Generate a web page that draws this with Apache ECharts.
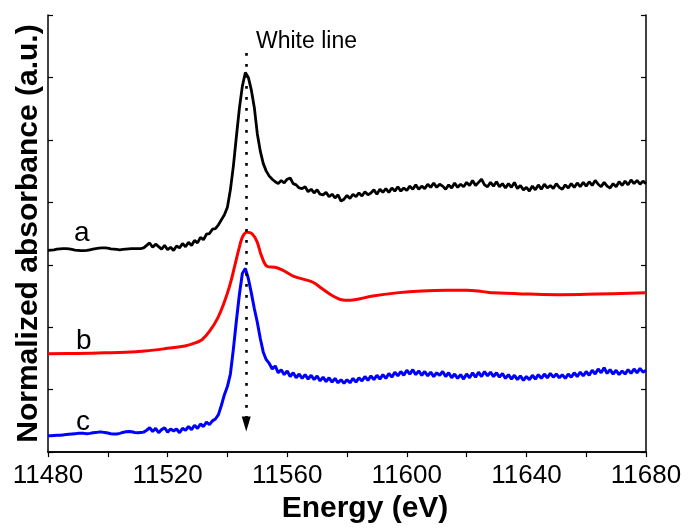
<!DOCTYPE html>
<html>
<head>
<meta charset="utf-8">
<script src="https://cdn.jsdelivr.net/npm/echarts@6/dist/echarts.min.js"></script>
<style>
  html, body { margin: 0; padding: 0; background: #fff; }
  #chart { width: 692px; height: 529px; }
</style>
</head>
<body>
<div id="chart"></div>
<script>
// ── data: energy grid for the two noisy spectra (1 eV steps) ──
const E_START = 11480;
const E_STEP = 1;

// spectrum a (black), one value per eV from 11480 to 11680
const absA = [
  3.23, 3.235, 3.24, 3.25, 3.255, 3.26, 3.26, 3.255, 3.245, 3.235,   // 11480
  3.23, 3.225, 3.225, 3.23, 3.24, 3.25, 3.26, 3.265, 3.27, 3.27,     // 11490
  3.265, 3.255, 3.25, 3.245, 3.24, 3.245, 3.25, 3.255, 3.26, 3.26,   // 11500
  3.26, 3.26, 3.27, 3.31, 3.35, 3.28, 3.33, 3.29, 3.25, 3.31,        // 11510
  3.24, 3.28, 3.23, 3.30, 3.27, 3.34, 3.29, 3.36, 3.31, 3.39,        // 11520
  3.35, 3.44, 3.40, 3.49, 3.50, 3.57, 3.58, 3.64, 3.72, 3.80,        // 11530
  3.92, 4.20, 4.58, 5.05, 5.50, 5.86, 6.08, 6.00, 5.80, 5.52,        // 11540
  5.10, 4.82, 4.62, 4.50, 4.42, 4.37, 4.33, 4.30, 4.35, 4.31,        // 11550
  4.37, 4.39, 4.30, 4.28, 4.23, 4.22, 4.25, 4.17, 4.21, 4.15,        // 11560
  4.20, 4.13, 4.12, 4.16, 4.09, 4.13, 4.07, 4.12, 4.02, 4.05,        // 11570
  4.11, 4.06, 4.13, 4.09, 4.15, 4.10, 4.17, 4.12, 4.15, 4.20,        // 11580
  4.13, 4.21, 4.16, 4.22, 4.16, 4.23, 4.18, 4.25, 4.18, 4.23,        // 11590
  4.19, 4.26, 4.21, 4.28, 4.21, 4.26, 4.22, 4.29, 4.24, 4.31,        // 11600
  4.24, 4.29, 4.26, 4.21, 4.28, 4.23, 4.31, 4.24, 4.29, 4.25,        // 11610
  4.32, 4.27, 4.35, 4.27, 4.32, 4.37, 4.28, 4.25, 4.32, 4.26,        // 11620
  4.33, 4.25, 4.30, 4.23, 4.30, 4.24, 4.32, 4.22, 4.27, 4.20,        // 11630
  4.24, 4.18, 4.26, 4.20, 4.28, 4.21, 4.29, 4.23, 4.27, 4.22,        // 11640
  4.30, 4.24, 4.21, 4.28, 4.23, 4.30, 4.24, 4.31, 4.25, 4.32,        // 11650
  4.26, 4.33, 4.27, 4.35, 4.29, 4.25, 4.32, 4.26, 4.23, 4.30,        // 11660
  4.25, 4.33, 4.27, 4.34, 4.28, 4.36, 4.30, 4.35, 4.29, 4.34,        // 11670
  4.30                                                               // 11680
];

// spectrum c (blue), same grid
const absC = [
  0.26, 0.26, 0.265, 0.27, 0.27, 0.275, 0.28, 0.285, 0.29, 0.295,    // 11480
  0.30, 0.30, 0.30, 0.295, 0.30, 0.31, 0.315, 0.32, 0.32, 0.315,     // 11490
  0.305, 0.295, 0.29, 0.29, 0.30, 0.315, 0.325, 0.33, 0.325, 0.315,  // 11500
  0.31, 0.315, 0.32, 0.35, 0.39, 0.33, 0.38, 0.31, 0.36, 0.39,       // 11510
  0.32, 0.37, 0.34, 0.37, 0.31, 0.38, 0.35, 0.41, 0.36, 0.43,        // 11520
  0.38, 0.45, 0.41, 0.48, 0.44, 0.50, 0.53, 0.60, 0.75, 0.92,        // 11530
  1.05, 1.25, 1.65, 2.10, 2.52, 2.86, 2.94, 2.78, 2.55, 2.30,        // 11540
  2.08, 1.82, 1.60, 1.48, 1.42, 1.33, 1.38, 1.27, 1.32, 1.24,        // 11550
  1.30, 1.21, 1.27, 1.19, 1.25, 1.18, 1.24, 1.17, 1.23, 1.16,        // 11560
  1.22, 1.14, 1.20, 1.13, 1.19, 1.12, 1.18, 1.11, 1.16, 1.10,        // 11570
  1.16, 1.11, 1.18, 1.12, 1.19, 1.14, 1.21, 1.15, 1.22, 1.16,        // 11580
  1.23, 1.17, 1.24, 1.18, 1.26, 1.20, 1.28, 1.22, 1.29, 1.23,        // 11590
  1.31, 1.25, 1.32, 1.24, 1.30, 1.23, 1.29, 1.22, 1.28, 1.21,        // 11600
  1.27, 1.23, 1.29, 1.21, 1.27, 1.19, 1.25, 1.18, 1.24, 1.17,        // 11610
  1.25, 1.19, 1.27, 1.20, 1.28, 1.21, 1.29, 1.22, 1.28, 1.21,        // 11620
  1.27, 1.20, 1.26, 1.18, 1.24, 1.17, 1.23, 1.16, 1.22, 1.15,        // 11630
  1.21, 1.16, 1.23, 1.17, 1.24, 1.18, 1.25, 1.19, 1.26, 1.20,        // 11640
  1.25, 1.19, 1.24, 1.18, 1.25, 1.20, 1.27, 1.21, 1.28, 1.22,        // 11650
  1.29, 1.23, 1.31, 1.25, 1.33, 1.27, 1.35, 1.26, 1.32, 1.25,        // 11660
  1.31, 1.24, 1.30, 1.25, 1.32, 1.26, 1.33, 1.27, 1.34, 1.28,        // 11670
  1.31                                                               // 11680
];

// spectrum b (red) is smooth, so sparse points are enough
const energyB = [11480, 11490, 11499, 11506, 11512.4, 11519, 11525.8, 11529, 11531.5, 11534.1,
  11536.8, 11539.1, 11540.8, 11542.5, 11544.2, 11545.2, 11546.5, 11548.2, 11549.9, 11551.5,
  11553.5, 11555.9, 11558.6, 11562, 11565.3, 11568.6, 11571.6, 11575.3, 11579.3, 11582.6,
  11588.6, 11596.6, 11605, 11613.4, 11620, 11625.4, 11629, 11641, 11652, 11663.5, 11680];
const absB = [1.575, 1.58, 1.59, 1.60, 1.62, 1.655, 1.70, 1.745, 1.80, 1.94,
  2.15, 2.42, 2.67, 2.99, 3.32, 3.46, 3.52, 3.50, 3.37, 3.13,
  2.97, 2.96, 2.91, 2.82, 2.77, 2.72, 2.62, 2.50, 2.43, 2.44,
  2.50, 2.55, 2.58, 2.59, 2.59, 2.57, 2.55, 2.53, 2.52, 2.53, 2.55];

// white line marker (energy, top, arrow tip)
const whiteLine = { energy: 11546.3, top: 6.39, bottom: 0.45 };

const xTicks = { min: 11480, max: 11680, step: 40 };

function onGrid(values) {
  return values.map(function(v, i) { return [E_START + i * E_STEP, v]; });
}

var chart = echarts.init(document.getElementById("chart"));
var FONT = "Arial, 'Liberation Sans', sans-serif";
var axisLine = { show: true, lineStyle: { color: "#000", width: 1.5 } };

chart.setOption({
  animation: false,
  backgroundColor: "#fff",
  grid: { left: 48, right: 46, top: 15, bottom: 74 },
  xAxis: [{
    type: "value", min: xTicks.min, max: xTicks.max, interval: xTicks.step,
    position: "bottom",
    name: "Energy (eV)", nameLocation: "middle", nameGap: 35,
    nameTextStyle: { fontFamily: FONT, fontSize: 30, fontWeight: "bold", color: "#000", padding: [0, 0, 0, 36] },
    axisLine: axisLine,
    axisTick: { show: true, inside: false, length: 5, lineStyle: { color: "#000", width: 1.2 } },
    minorTick: { show: true, splitNumber: 2, length: 5, lineStyle: { color: "#000", width: 1.2 } },
    axisLabel: { fontFamily: FONT, fontSize: 26, color: "#000", margin: 11,
      formatter: function(v) { return String(v); } },
    splitLine: { show: false },
  }, {
    type: "value", min: xTicks.min, max: xTicks.max, position: "top",
    axisLine: axisLine, axisTick: { show: false }, axisLabel: { show: false }, splitLine: { show: false },
  }],
  yAxis: [{
    type: "value", min: 0, max: 7, interval: 1, position: "left",
    name: "Normalized absorbance (a.u.)", nameLocation: "middle", nameGap: 4,
    nameTextStyle: { fontFamily: FONT, fontSize: 30, fontWeight: "bold", color: "#000" },
    axisLine: axisLine,
    axisTick: { show: true, inside: true, length: 5, lineStyle: { color: "#000", width: 1.2 } },
    axisLabel: { show: false },
    splitLine: { show: false },
  }, {
    type: "value", min: 0, max: 7, interval: 1, position: "right",
    axisLine: axisLine,
    axisTick: { show: true, inside: true, length: 5, lineStyle: { color: "#000", width: 1.2 } },
    axisLabel: { show: false },
    splitLine: { show: false },
  }],
  series: [{
    name: "a", type: "line", data: onGrid(absA), showSymbol: false,
    lineStyle: { color: "#000", width: 2.8 }, z: 3,
    markLine: {
      silent: true, symbol: ["none", "triangle"], symbolSize: [9, 15],
      label: { show: false },
      lineStyle: { color: "#000", width: 2.6, type: [2.6, 8.4] },
      data: [[{ coord: [whiteLine.energy, whiteLine.top] }, { coord: [whiteLine.energy, whiteLine.bottom] }]],
    },
  }, {
    name: "b", type: "line", data: energyB.map(function(e, i) { return [e, absB[i]]; }),
    showSymbol: false, smooth: 0.4,
    lineStyle: { color: "#ff0000", width: 3 }, z: 2,
  }, {
    name: "c", type: "line", data: onGrid(absC), showSymbol: false,
    lineStyle: { color: "#0000ff", width: 3 }, z: 2,
  }],
  graphic: [
    { type: "text", x: 256, y: 41.7, style: { text: "White line", font: "23px " + FONT, fill: "#000", verticalAlign: "middle" } },
    { type: "text", x: 74, y: 233, style: { text: "a", font: "28px " + FONT, fill: "#000", verticalAlign: "middle" } },
    { type: "text", x: 76, y: 341.7, style: { text: "b", font: "28px " + FONT, fill: "#000", verticalAlign: "middle" } },
    { type: "text", x: 76, y: 422, style: { text: "c", font: "28px " + FONT, fill: "#000", verticalAlign: "middle" } },
  ],
});
</script>
</body>
</html>
